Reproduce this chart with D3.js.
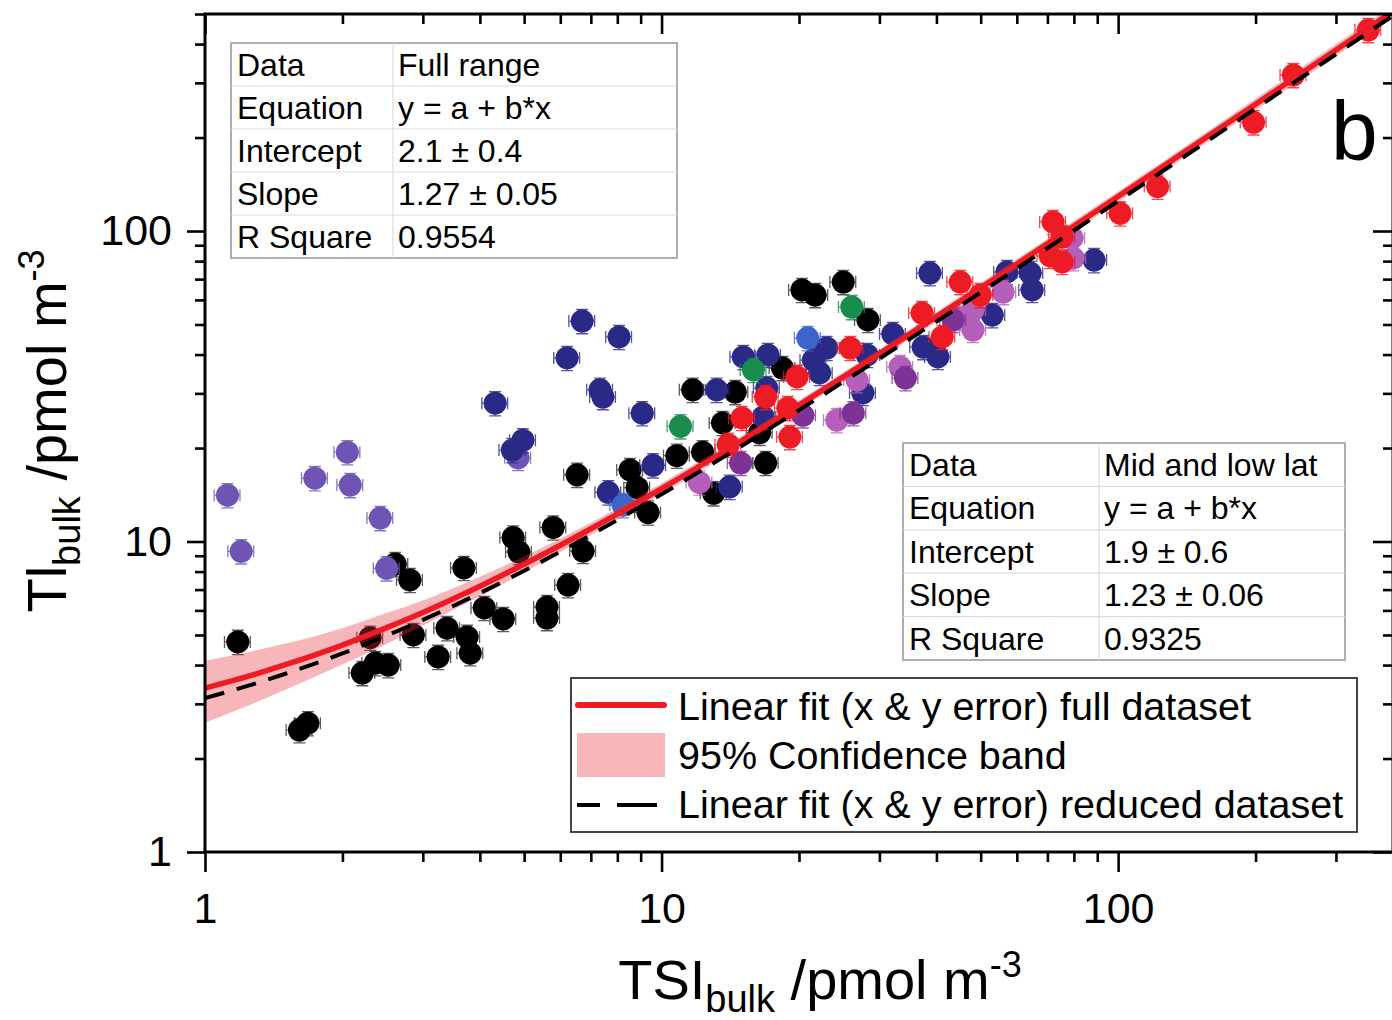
<!DOCTYPE html>
<html>
<head>
<meta charset="utf-8">
<script src="https://cdn.jsdelivr.net/npm/d3@7"></script>
<style>
  body { margin: 0; background: #fff; }
  svg { display: block; }
  text { font-family: "Liberation Sans", Arial, sans-serif; fill: #000; }
</style>
</head>
<body>
<div id="chart"></div>
<script>
// ---- Data ----------------------------------------------------------
// [TSI_bulk, Tl_bulk] in pmol m-3

const X_TICKS = [1, 10, 100];
const Y_TICKS = [1, 10, 100];

const BLACK_PTS = [
  [1.18, 4.75], [1.61, 2.47], [1.68, 2.6], [2.21, 3.77], [2.36, 4.06], [2.52, 4.0],
  [2.3, 4.9], [2.86, 5.0], [3.24, 4.25], [2.61, 8.46], [2.81, 7.52], [3.69, 8.22],
  [3.39, 5.26], [3.75, 4.93], [3.81, 4.37], [4.09, 6.11], [4.5, 5.63], [4.73, 10.3],
  [4.87, 9.25], [5.79, 11.1], [5.61, 6.15], [5.61, 5.67], [6.24, 7.24], [6.53, 16.4],
  [6.73, 9.32], [8.53, 17.0], [8.84, 14.9], [9.34, 12.4], [10.8, 18.9], [12.3, 19.4],
  [11.7, 30.8], [14.5, 30.3], [13.6, 24.1], [16.9, 17.9], [13.0, 14.3], [18.4, 36.2],
  [20.3, 64.6], [21.7, 62.2], [25.0, 68.5], [28.3, 51.7], [16.4, 22.4]
];

const LAVENDER_PTS = [
  [1.12, 14.1], [1.2, 9.3], [1.74, 16.0], [2.05, 19.4], [2.08, 15.2],
  [2.42, 11.9], [2.5, 8.2], [4.85, 18.6]
];

const NAVY_PTS = [
  [4.32, 27.9], [6.21, 39.0], [6.7, 51.3], [8.07, 45.6], [7.33, 30.8], [7.44, 29.2],
  [9.07, 25.9], [4.71, 19.7], [4.97, 21.2], [7.64, 14.4], [9.58, 17.6], [13.2, 30.8],
  [15.1, 39.3], [17.1, 39.9], [17.0, 31.2], [16.7, 25.2], [14.1, 15.0], [23.0, 42.0],
  [21.5, 38.4], [22.2, 34.9], [28.2, 39.9], [27.6, 30.1], [32.1, 46.6], [37.4, 42.3],
  [40.3, 39.3], [38.7, 73.2], [53.0, 53.6], [57.1, 73.8], [64.2, 73.2], [64.8, 64.6],
  [88.6, 80.6]
];

const BLUE_PTS = [[20.9, 45.2], [8.24, 13.1]];

const GREEN_PTS = [[11.0, 23.5], [15.9, 35.7], [26.1, 56.9]];

const ORCHID_PTS = [
  [79.7, 81.8], [79.3, 95.0], [56.0, 63.6], [48.1, 48.0], [48.1, 55.7],
  [44.4, 52.5], [33.3, 36.5], [26.8, 33.1], [24.2, 24.6], [12.1, 15.5]
];

const PURPLE_PTS = [[14.9, 17.9], [26.3, 25.9], [20.4, 25.5], [34.2, 33.6], [43.5, 51.7]];

const RED_PTS = [
  [19.8, 33.9], [25.9, 42.0], [15.0, 25.0], [16.9, 29.2], [18.9, 26.9], [19.1, 21.7],
  [14.0, 20.5], [45.1, 68.5], [49.9, 62.2], [37.2, 54.4], [41.2, 45.6], [72.0, 107],
  [75.4, 95.6], [71.0, 83.1], [75.4, 79.5], [101, 114], [122, 139], [198, 224],
  [242, 318], [353, 444]
];

// relative error bars (caps just outside the markers)
const X_ERR_REL = 0.065;
const Y_ERR_REL = 0.09;

// fit curves (y = a + b*x drawn on log axes) and 95 % band
const FIT_X       = [1, 1.25, 1.5, 2, 2.5, 3, 4, 5, 7, 10, 15, 20, 30, 50, 70, 100, 150, 200, 300, 400];
const FULL_FIT_Y  = [3.37, 3.69, 4.01, 4.64, 5.28, 5.91, 7.18, 8.45, 10.99, 14.8, 21.15, 27.5, 40.2, 65.6, 91.0, 129.1, 192.6, 256.1, 383.1, 510.1];
const REDUCED_FIT_Y = [3.13, 3.44, 3.75, 4.36, 4.98, 5.59, 6.82, 8.05, 10.51, 14.2, 20.35, 26.5, 38.8, 63.4, 88.0, 124.9, 186.4, 247.9, 370.9, 493.9];
const BAND_LO     = [2.61, 2.97, 3.33, 4.02, 4.68, 5.36, 6.66, 7.95, 10.49, 14.2, 20.35, 26.5, 38.8, 63.1, 87.5, 124, 185, 245, 366, 488];
const BAND_HI     = [4.13, 4.41, 4.69, 5.26, 5.88, 6.46, 7.70, 8.95, 11.49, 15.4, 21.95, 28.5, 41.6, 68.1, 94.5, 134, 200, 267, 400, 532];

const TABLE_FULL = [
  ['Data', 'Full range'],
  ['Equation', 'y = a + b*x'],
  ['Intercept', '2.1 ± 0.4'],
  ['Slope', '1.27 ± 0.05'],
  ['R Square', '0.9554']
];
const TABLE_MID = [
  ['Data', 'Mid and low lat'],
  ['Equation', 'y = a + b*x'],
  ['Intercept', '1.9 ± 0.6'],
  ['Slope', '1.23 ± 0.06'],
  ['R Square', '0.9325']
];

const LEGEND_LABELS = [
  'Linear fit (x & y error) full dataset',
  '95% Confidence band',
  'Linear fit (x & y error) reduced dataset'
];

// drawing order and colours
const SERIES = [
  { pts: BLACK_PTS,    color: '#000000', bar: '#333333' },
  { pts: LAVENDER_PTS, color: '#6e55b4', bar: '#6e55b4' },
  { pts: NAVY_PTS,     color: '#2a2a86', bar: '#2a2a86' },
  { pts: BLUE_PTS,     color: '#3d64c8', bar: '#3d64c8' },
  { pts: GREEN_PTS,    color: '#1a8c4e', bar: '#1a8c4e' },
  { pts: ORCHID_PTS,   color: '#b45fba', bar: '#b45fba' },
  { pts: PURPLE_PTS,   color: '#7d3296', bar: '#7d3296' },
  { pts: RED_PTS,      color: '#ed1c24', bar: '#ed1c24' }
];

// ---- Chart ---------------------------------------------------------
const W = 1392, H = 1020;
const M = { left: 205, right: 1393, top: 14, bottom: 852 };

const svg = d3.select('#chart').append('svg')
  .attr('width', W).attr('height', H);

const x = d3.scaleLog().domain([1, 400]).range([M.left, M.right]);
const y = d3.scaleLog().domain([1, 500]).range([M.bottom, M.top]);

svg.append('defs').append('clipPath').attr('id', 'plot-clip')
  .append('rect')
  .attr('x', M.left).attr('y', M.top)
  .attr('width', M.right - M.left).attr('height', M.bottom - M.top);

const plot = svg.append('g').attr('clip-path', 'url(#plot-clip)');

// ---- Points with error bars ----
const R = 11.5, CAP = 6;
SERIES.forEach(s => {
  const g = plot.append('g');
  const bars = g.append('g')
    .attr('stroke', s.bar).attr('stroke-width', 1.3).attr('fill', 'none').attr('opacity', 0.8);
  s.pts.forEach(([vx, vy]) => {
    const cx = x(vx), cy = y(vy);
    const xl = x(vx * (1 - X_ERR_REL)), xr = x(vx * (1 + X_ERR_REL));
    const yt = y(vy * (1 + Y_ERR_REL)), yb = y(vy * (1 - Y_ERR_REL));
    bars.append('path').attr('d',
      `M${xl},${cy}H${xr}M${xl},${cy - CAP}V${cy + CAP}M${xr},${cy - CAP}V${cy + CAP}` +
      `M${cx},${yt}V${yb}M${cx - CAP},${yt}H${cx + CAP}M${cx - CAP},${yb}H${cx + CAP}`);
  });
  g.selectAll('circle')
    .data(s.pts)
    .join('circle')
    .attr('cx', d => x(d[0]))
    .attr('cy', d => y(d[1]))
    .attr('r', R)
    .attr('fill', s.color);
});

// ---- Confidence band and fits ----
const bandData = FIT_X.map((v, i) => ({ x: v, lo: BAND_LO[i], hi: BAND_HI[i] }));
plot.append('path')
  .datum(bandData)
  .attr('fill', '#e8303a')
  .attr('fill-opacity', 0.35)
  .attr('d', d3.area().curve(d3.curveMonotoneX)
    .x(d => x(d.x)).y0(d => y(d.lo)).y1(d => y(d.hi)));

const line = d3.line().curve(d3.curveMonotoneX).x(d => x(d[0])).y(d => y(d[1]));

plot.append('path')
  .datum(FIT_X.map((v, i) => [v, FULL_FIT_Y[i]]))
  .attr('fill', 'none')
  .attr('stroke', '#ed1c24')
  .attr('stroke-width', 5.5)
  .attr('d', line);

plot.append('path')
  .datum(FIT_X.map((v, i) => [v, REDUCED_FIT_Y[i]]))
  .attr('fill', 'none')
  .attr('stroke', '#000')
  .attr('stroke-width', 4)
  .attr('stroke-dasharray', '20,13')
  .attr('d', line);

// ---- Axes ----
const minorX = x.ticks().filter(v => !X_TICKS.includes(v));
const minorY = y.ticks().filter(v => !Y_TICKS.includes(v));

function styleAxis(g) {
  g.select('.domain').remove();
  g.selectAll('.tick line').attr('stroke', '#000').attr('stroke-width', 2.6);
  g.selectAll('.tick text')
    .attr('font-size', 43)
    .attr('font-family', '"Liberation Sans", Arial, sans-serif')
    .attr('fill', '#000');
}

// bottom (outward, labelled)
svg.append('g').attr('transform', `translate(0,${M.bottom})`)
  .call(d3.axisBottom(x).tickValues(X_TICKS).tickSize(20).tickPadding(20).tickFormat(d3.format('d')))
  .call(styleAxis);
svg.append('g').attr('transform', `translate(0,${M.bottom})`)
  .call(d3.axisBottom(x).tickValues(minorX).tickSize(10).tickFormat(''))
  .call(styleAxis);

// top (inward)
svg.append('g').attr('transform', `translate(0,${M.top})`)
  .call(d3.axisBottom(x).tickValues(X_TICKS).tickSize(20).tickFormat(''))
  .call(styleAxis);
svg.append('g').attr('transform', `translate(0,${M.top})`)
  .call(d3.axisBottom(x).tickValues(minorX).tickSize(10).tickFormat(''))
  .call(styleAxis);

// left (outward, labelled)
svg.append('g').attr('transform', `translate(${M.left},0)`)
  .call(d3.axisLeft(y).tickValues(Y_TICKS).tickSize(18).tickPadding(15).tickFormat(d3.format('d')))
  .call(styleAxis);
svg.append('g').attr('transform', `translate(${M.left},0)`)
  .call(d3.axisLeft(y).tickValues(minorY).tickSize(10).tickFormat(''))
  .call(styleAxis);

// right (inward)
svg.append('g').attr('transform', `translate(${M.right},0)`)
  .call(d3.axisLeft(y).tickValues(Y_TICKS).tickSize(20).tickFormat(''))
  .call(styleAxis);
svg.append('g').attr('transform', `translate(${M.right},0)`)
  .call(d3.axisLeft(y).tickValues(minorY).tickSize(10).tickFormat(''))
  .call(styleAxis);

// frame
svg.append('path')
  .attr('d', `M${M.left},${M.top}V${M.bottom}H${M.right}V${M.top}Z`)
  .attr('fill', 'none').attr('stroke', '#000').attr('stroke-width', 3);

// ---- Axis titles ----
const xTitle = svg.append('text')
  .attr('x', 820).attr('y', 999)
  .attr('text-anchor', 'middle')
  .attr('font-size', 56);
xTitle.append('tspan').text('TSI');
xTitle.append('tspan').attr('font-size', 38).attr('dy', 13).text('bulk');
xTitle.append('tspan').attr('dy', -13).text(' /pmol m');
xTitle.append('tspan').attr('font-size', 36).attr('dy', -22).text('-3');

const yTitle = svg.append('text')
  .attr('transform', 'translate(66,431) rotate(-90)')
  .attr('text-anchor', 'middle')
  .attr('font-size', 56);
yTitle.append('tspan').text('Tl');
yTitle.append('tspan').attr('font-size', 38).attr('dy', 14).text('bulk');
yTitle.append('tspan').attr('dy', -14).text(' /pmol m');
yTitle.append('tspan').attr('font-size', 36).attr('dy', -22).text('-3');

// panel letter
svg.append('text')
  .attr('x', 1331).attr('y', 160)
  .attr('font-size', 84)
  .text('b');

// ---- Result tables ----
function drawTable(rows, x0, x1, y0, y1, split) {
  const g = svg.append('g');
  const rh = (y1 - y0) / rows.length;
  g.append('rect')
    .attr('x', x0).attr('y', y0).attr('width', x1 - x0).attr('height', y1 - y0)
    .attr('fill', '#fff').attr('stroke', '#9a9a9a').attr('stroke-width', 1.6);
  rows.forEach((r, i) => {
    if (i > 0) {
      g.append('line')
        .attr('x1', x0).attr('x2', x1).attr('y1', y0 + i * rh).attr('y2', y0 + i * rh)
        .attr('stroke', '#dcdcdc').attr('stroke-width', 1.2);
    }
    g.append('text').attr('x', x0 + 6).attr('y', y0 + i * rh + 33)
      .attr('font-size', 32).text(r[0]);
    g.append('text').attr('x', split + 5).attr('y', y0 + i * rh + 33)
      .attr('font-size', 32).text(r[1]);
  });
  g.append('line')
    .attr('x1', split).attr('x2', split).attr('y1', y0).attr('y2', y1)
    .attr('stroke', '#dcdcdc').attr('stroke-width', 1.2);
}

drawTable(TABLE_FULL, 231, 677, 43, 258, 393);
drawTable(TABLE_MID, 903, 1345, 443, 660, 1099);

// ---- Legend ----
const lg = svg.append('g');
lg.append('rect')
  .attr('x', 571).attr('y', 678).attr('width', 786).attr('height', 154)
  .attr('fill', '#fff').attr('stroke', '#444').attr('stroke-width', 2);
lg.append('line')
  .attr('x1', 578).attr('x2', 664).attr('y1', 705).attr('y2', 705)
  .attr('stroke', '#ed1c24').attr('stroke-width', 6).attr('stroke-linecap', 'round');
lg.append('rect')
  .attr('x', 577).attr('y', 733).attr('width', 88).attr('height', 44)
  .attr('fill', '#e8303a').attr('fill-opacity', 0.35);
lg.append('line')
  .attr('x1', 577).attr('x2', 657).attr('y1', 805).attr('y2', 805)
  .attr('stroke', '#000').attr('stroke-width', 4).attr('stroke-dasharray', '23,17,40');
LEGEND_LABELS.forEach((t, i) => {
  lg.append('text')
    .attr('x', 678).attr('y', 720 + i * 49)
    .attr('font-size', 39.5)
    .text(t);
});
</script>
</body>
</html>
